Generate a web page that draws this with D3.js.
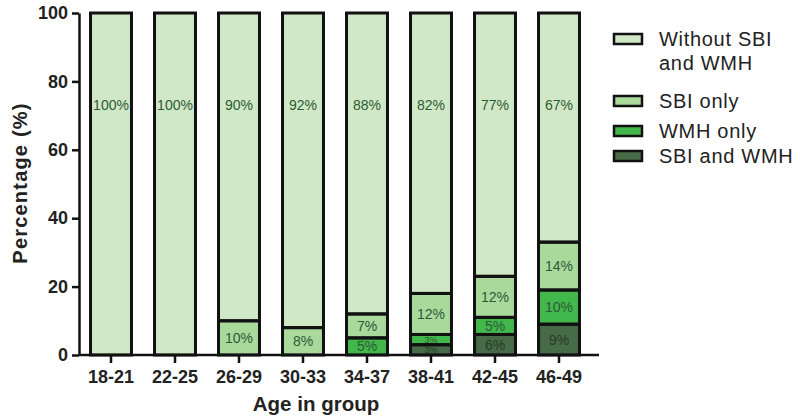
<!DOCTYPE html>
<html><head><meta charset="utf-8">
<script src="https://cdn.jsdelivr.net/npm/d3@7"></script>
<style>body{margin:0;background:#fff}svg{display:block}text{font-family:"Liberation Sans",Arial,sans-serif}</style>
</head><body><svg id="c" width="800" height="418"></svg>
<script>
const categories = ["18-21","22-25","26-29","30-33","34-37","38-41","42-45","46-49"];
const seriesNames = ["SBI and WMH","WMH only","SBI only","Without SBI and WMH"];
const sbiAndWmh = [0,0,0,0,0,3,6,9];
const wmhOnly   = [0,0,0,0,5,3,5,10];
const sbiOnly   = [0,0,10,8,7,12,12,14];
const without   = [100,100,90,92,88,82,77,67];
const yTicks = [0,20,40,60,80,100];
const colors = ["#476b46","#42b74b","#aad99c","#d0e8c5"];

const svg = d3.select("#c");
const x = d3.scaleBand().domain(categories).range([79,591]).paddingInner(0.36).paddingOuter(0.18);
const y = d3.scaleLinear().domain([0,100]).range([355,13]);

const rows = categories.map((c,i)=>({cat:c, s0:sbiAndWmh[i], s1:wmhOnly[i], s2:sbiOnly[i], s3:without[i]}));
const stack = d3.stack().keys(["s0","s1","s2","s3"])(rows);

const g = svg.append("g");
const segs = [];
stack.forEach((layer,li)=>layer.forEach(d=>{ if (d[1]-d[0]>0) segs.push({li,d}); }));
g.selectAll("rect.fill").data(segs).join("rect")
  .attr("x", s=>x(s.d.data.cat)).attr("width", x.bandwidth())
  .attr("y", s=>y(s.d[1])).attr("height", s=>y(s.d[0])-y(s.d[1]))
  .attr("fill", s=>colors[s.li]);
g.selectAll("rect.stroke").data(segs).join("rect")
  .attr("x", s=>x(s.d.data.cat)).attr("width", x.bandwidth())
  .attr("y", s=>y(s.d[1])).attr("height", s=>y(s.d[0])-y(s.d[1]))
  .attr("fill", "none").attr("stroke","#111").attr("stroke-width",3);

// labels
segs.forEach(({li,d})=>{
  const v = d[1]-d[0];
  const cy = li===3 ? y(73) : (y(d[0])+y(d[1]))/2;
  const small = v < 4;
  g.append("text")
    .attr("x", x(d.data.cat)+x.bandwidth()/2)
    .attr("y", cy).attr("dy","0.36em")
    .attr("text-anchor","middle")
    .attr("font-size", small?9:14)
    .attr("fill", li===0 ? "#283c28" : "#2c5a36")
    .text(v+"%");
});

// axes
const yAxis = d3.axisLeft(y).tickValues(yTicks).tickSize(7).tickSizeOuter(0);
const ya = svg.append("g").attr("transform","translate(79,0)").call(yAxis);
ya.select(".domain").attr("stroke","#111").attr("stroke-width",2.5);
ya.selectAll(".tick line").attr("stroke","#111").attr("stroke-width",2.5);
ya.selectAll(".tick text").attr("font-size",18).attr("font-weight","bold").attr("fill","#222").attr("dx","-1");

const xAxis = d3.axisBottom(x).tickSize(8).tickSizeOuter(0);
const xa = svg.append("g").attr("transform","translate(0,355)").call(xAxis);
xa.select(".domain").attr("d","M79,0H599").attr("stroke","#111").attr("stroke-width",2.5);
xa.selectAll(".tick line").attr("stroke","#111").attr("stroke-width",2.5);
xa.selectAll(".tick text").attr("font-size",18).attr("font-weight","bold").attr("fill","#222").attr("dy","0.95em");

svg.append("text").attr("transform","translate(27,183) rotate(-90)")
  .attr("text-anchor","middle").attr("font-size",20).attr("letter-spacing",1.2).attr("font-weight","bold").attr("fill","#222")
  .text("Percentage (%)");
svg.append("text").attr("x",316).attr("y",411)
  .attr("text-anchor","middle").attr("font-size",20.5).attr("font-weight","bold").attr("fill","#222")
  .text("Age in group");

// legend
const legendItems = [
  {lines:["Without SBI","and WMH"], c:colors[3], by:39},
  {lines:["SBI only"], c:colors[2], by:101},
  {lines:["WMH only"], c:colors[1], by:131},
  {lines:["SBI and WMH"], c:colors[0], by:156}
];
const lg = svg.append("g");
legendItems.forEach(it=>{
  lg.append("rect").attr("x",614).attr("y",it.by-5).attr("width",28).attr("height",10)
    .attr("fill",it.c).attr("stroke","#111").attr("stroke-width",2.5);
  it.lines.forEach((t,k)=>{
    lg.append("text").attr("x",659).attr("y",it.by+k*24).attr("dy","0.35em")
      .attr("font-size",20).attr("letter-spacing",0.7).attr("fill","#222").text(t);
  });
});
</script></body></html>
